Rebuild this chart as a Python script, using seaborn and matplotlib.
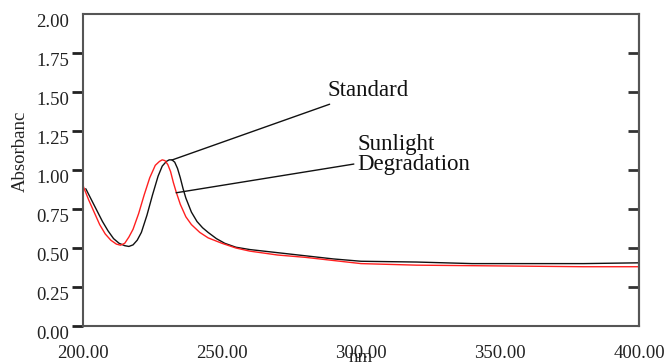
import matplotlib
matplotlib.use("Agg")
import matplotlib.pyplot as plt
import seaborn as sns
import pandas as pd

# Standard (black) spectrum
std_nm = [201, 203, 205, 207, 209, 211, 213, 215, 216.5, 218, 219.5, 221, 223, 225, 227,
          228.5, 230, 231, 232, 233, 234, 235, 236, 237, 239, 241, 243, 245, 248, 251, 255,
          260, 270, 280, 290, 300, 320, 340, 360, 380, 400]
std_abs = [0.88, 0.81, 0.74, 0.67, 0.61, 0.56, 0.53, 0.515, 0.51, 0.52, 0.55, 0.60, 0.71,
           0.84, 0.96, 1.025, 1.055, 1.065, 1.065, 1.05, 1.01, 0.95, 0.88, 0.82, 0.73, 0.67,
           0.63, 0.60, 0.56, 0.53, 0.505, 0.49, 0.47, 0.45, 0.43, 0.415, 0.41, 0.40, 0.40,
           0.40, 0.405]

# Sunlight degradation (red) spectrum
deg_nm = [200, 202, 204, 206, 208, 210, 212, 213.5, 215, 216.5, 218, 220, 222, 224, 226,
          227.5, 228.5, 229.5, 230.5, 231.5, 232.5, 233.5, 235, 237, 239, 242, 245, 250, 255,
          260, 270, 280, 290, 300, 320, 350, 380, 400]
deg_abs = [0.90, 0.81, 0.73, 0.65, 0.59, 0.55, 0.525, 0.518, 0.53, 0.57, 0.62, 0.72, 0.84,
           0.95, 1.03, 1.055, 1.065, 1.06, 1.035, 0.99, 0.92, 0.86, 0.78, 0.70, 0.65, 0.60,
           0.565, 0.53, 0.50, 0.48, 0.455, 0.44, 0.42, 0.40, 0.39, 0.385, 0.38, 0.38]

x_ticks = [200, 250, 300, 350, 400]
x_ticklabels = ["200.00", "250.00", "300.00", "350.00", "400.00"]
y_ticks = [0, 0.25, 0.5, 0.75, 1.0, 1.25, 1.5, 1.75, 2.0]
y_ticklabels = ["0.00", "0.25", "0.50", "0.75", "1.00", "1.25", "1.50", "1.75", "2.00"]

df = pd.concat([
    pd.DataFrame({"nm": std_nm, "abs": std_abs, "series": "Standard"}),
    pd.DataFrame({"nm": deg_nm, "abs": deg_abs, "series": "Sunlight Degradation"}),
])

sns.set_style("white")
plt.rcParams["font.family"] = ["Liberation Serif", "DejaVu Serif"]

fig = plt.figure(figsize=(6.64, 3.63), dpi=100)
ax = fig.add_axes([83/664, 37/363, (639-83)/664, (326-14)/363])

sns.lineplot(data=df, x="nm", y="abs", hue="series", sort=False,
             palette={"Standard": "#111111", "Sunlight Degradation": "#ff2020"},
             linewidth=1.0, legend=False, ax=ax, estimator=None)

ax.set_xlim(200, 400)
ax.set_ylim(0, 2.0)

# inward ticks on the right spine
sec = ax.secondary_yaxis("right")
sec.set_yticks(y_ticks[1:-1])
sec.set_yticklabels([])
sec.tick_params(direction="in", length=8, width=2, color="#333333")
sec.spines["right"].set_color("#555555")
sec.spines["right"].set_linewidth(1.5)

ax.set_xticks(x_ticks)
ax.set_xticklabels(x_ticklabels, fontsize=13.5, color="#222222")
ax.set_yticks(y_ticks)
ax.set_yticklabels(y_ticklabels, fontsize=13.5, color="#222222")
ax.yaxis.set_ticks_position("left")
ax.tick_params(axis="y", which="major", direction="out", length=8, width=2,
               color="#222222", pad=2, left=True)
ax.tick_params(axis="x", direction="inout", length=5, width=1.5, color="#222222", pad=11)
for lab in ax.get_yticklabels():
    lab.set_verticalalignment("top")
yt = ax.yaxis.get_major_ticks()
yt[-1].tick1line.set_visible(False)

ax.set_xlabel("nm", fontsize=13.5, labelpad=-9, color="#222222")
ax.set_ylabel("Absorbanc", fontsize=13.5, color="#222222")
ax.yaxis.set_label_coords(-0.098, 0.56)
for sp in ax.spines.values():
    sp.set_visible(True)
    sp.set_color("#555555")
    sp.set_linewidth(1.5)

ax.annotate("Standard", xy=(232.0, 1.064), xytext=(288.1, 1.51),
            fontsize=16.5, va="center", ha="left", color="#111111",
            arrowprops=dict(arrowstyle="-", color="#111111", lw=1.0,
                            shrinkA=0, shrinkB=0))
ax.annotate("Sunlight\nDegradation", xy=(233.5, 0.854), xytext=(298.6, 1.10),
            fontsize=16.5, va="center", ha="left", color="#111111", linespacing=0.95,
            arrowprops=dict(arrowstyle="-", color="#111111", lw=1.0,
                            shrinkA=0, shrinkB=0))

fig.savefig("out.png", dpi=100)
